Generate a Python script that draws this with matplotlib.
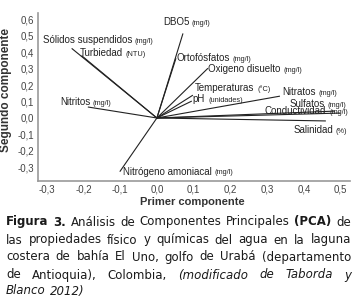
import numpy as np
import matplotlib
matplotlib.use('agg')
from matplotlib import pyplot as plt
from matplotlib.ticker import FuncFormatter

# PCA loadings
variables = ['DBO5', 'Ortofósfatos', 'Oxigeno disuelto', 'Temperaturas', 'pH',
             'Nitratos', 'Sulfatos', 'Conductividad', 'Salinidad', 'Nitritos',
             'Nitrógeno amoniacal', 'Sólidos suspendidos', 'Turbiedad']
units = ['(mg/l)', '(mg/l)', '(mg/l)', '(°C)', '(unidades)', '(mg/l)', '(mg/l)',
         '(mg/l)', '(%)', '(mg/l)', '(mg/l)', '(mg/l)', '(NTU)']
pc1 = [0.071, 0.052, 0.139, 0.098, 0.095, 0.335, 0.485, 0.499, 0.460,
       -0.188, -0.101, -0.232, -0.205]
pc2 = [0.515, 0.364, 0.303, 0.139, 0.103, 0.133, 0.042, 0.030, -0.018,
       0.067, -0.327, 0.424, 0.380]
xticks = [-0.3, -0.2, -0.1, 0.0, 0.1, 0.2, 0.3, 0.4, 0.5]
yticks = [-0.3, -0.2, -0.1, 0.0, 0.1, 0.2, 0.3, 0.4, 0.5, 0.6]

# where each label sits (left edge, vertical centre), data units
label_pos = [(0.016, 0.584), (0.054, 0.365), (0.139, 0.298), (0.104, 0.182),
             (0.098, 0.116), (0.341, 0.158), (0.362, 0.084), (0.294, 0.043),
             (0.371, -0.073), (-0.264, 0.097), (-0.093, -0.328),
             (-0.311, 0.474), (-0.210, 0.395)]

fig = plt.figure(figsize=(3.54, 2.97), dpi=100)
ax = fig.add_axes([0.107, 0.391, 0.882, 0.565])
ax.set_xlim(-0.324, 0.526)
ax.set_ylim(-0.383, 0.639)

for i in range(len(variables)):
    ax.plot([0, pc1[i]], [0, pc2[i]], color='#222222', lw=0.8, solid_capstyle='butt')
    t = ax.text(label_pos[i][0], label_pos[i][1], variables[i], fontsize=7,
                family='Liberation Sans', color='#222222', va='center', ha='left')
    ax.annotate(units[i], xy=(1, 0), xycoords=t, xytext=(2, 0.3),
                textcoords='offset points', fontsize=5.3, family='Liberation Sans',
                color='#222222', va='bottom', ha='left')

for s in ['top', 'right']:
    ax.spines[s].set_visible(False)
for s in ['left', 'bottom']:
    ax.spines[s].set_color('#999999')
    ax.spines[s].set_linewidth(1.2)

fmt = FuncFormatter(lambda v, p: '{:.1f}'.format(v).replace('.', ','))
ax.set_xticks(xticks)
ax.set_yticks(yticks)
ax.xaxis.set_major_formatter(fmt)
ax.yaxis.set_major_formatter(fmt)
ax.tick_params(length=0, labelsize=7, labelcolor='#444444', pad=2.5)
for lab in ax.get_xticklabels() + ax.get_yticklabels():
    lab.set_family('Liberation Sans')

ax.set_xlabel('Primer componente', fontsize=8, fontweight='bold', color='#333333',
              family='Liberation Sans')
ax.set_ylabel('Segundo componente', fontsize=8.5, fontweight='bold', color='#333333',
              family='Liberation Sans')
ax.xaxis.set_label_coords(0.494, -0.095)
ax.yaxis.set_label_coords(-0.083, 0.54)

# caption, justified by hand
caption = [
    [('Figura', 'b'), ('3.', 'b'), ('Análisis', 'n'), ('de', 'n'), ('Componentes', 'n'),
     ('Principales', 'n'), ('(PCA)', 'b'), ('de', 'n')],
    [(w, 'n') for w in 'las propiedades físico y químicas del agua en la laguna'.split()],
    [(w, 'n') for w in 'costera de bahía El Uno, golfo de Urabá (departamento'.split()],
    [(w, 'n') for w in 'de Antioquia), Colombia,'.split()] +
    [(w, 'i') for w in '(modificado de Taborda y'.split()],
    [(w, 'i') for w in 'Blanco 2012)'.split()],
]
cap_size = 8.5
left_px, right_px = 6, 351
line_y = [222, 240, 257, 275, 291]
W, H = fig.get_size_inches() * fig.dpi
renderer = fig.canvas.get_renderer()
for k, words in enumerate(caption):
    objs = []
    for w, st in words:
        t = fig.text(0, 1 - line_y[k] / H, w, fontsize=cap_size, family='DejaVu Sans',
                     color='#1a1a1a', va='center', ha='left',
                     fontweight='bold' if st == 'b' else 'normal',
                     fontstyle='italic' if st == 'i' else 'normal')
        objs.append(t)
    widths = [o.get_window_extent(renderer).width for o in objs]
    if k == len(caption) - 1:
        gap = renderer.points_to_pixels(cap_size) * 0.32
    else:
        gap = (right_px - left_px - sum(widths)) / (len(objs) - 1)
    x = left_px
    for o, wd in zip(objs, widths):
        o.set_x(x / W)
        x += wd + gap

fig.savefig('out.png', dpi=100)
